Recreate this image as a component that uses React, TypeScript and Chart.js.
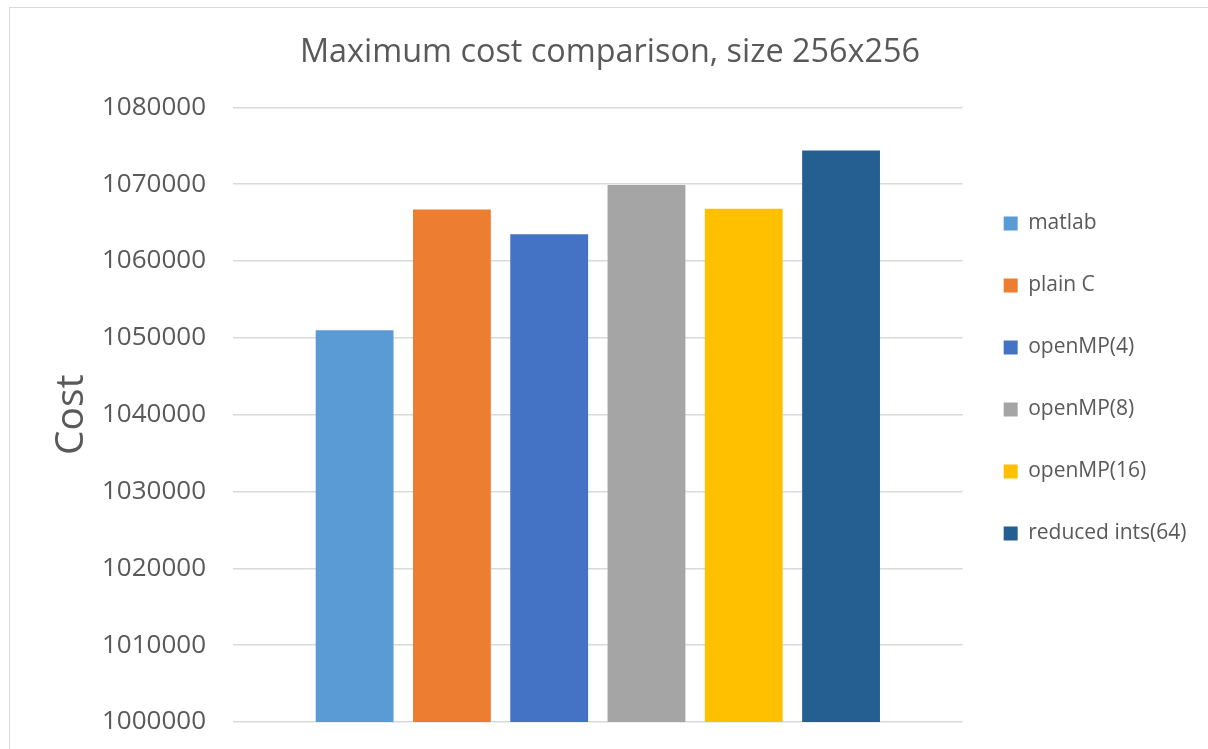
import React, { useEffect, useRef } from "react";
import { Chart, registerables } from "chart.js";

Chart.register(...registerables);

// Series shown in the legend, one bar each
const seriesNames = ["matlab", "plain C", "openMP(4)", "openMP(8)", "openMP(16)", "reduced ints(64)"];
const seriesValues = [1051000, 1066700, 1063500, 1069900, 1066800, 1074400];
const seriesColors = ["#5B9BD5", "#ED7D31", "#4472C4", "#A5A5A5", "#FFC000", "#255E91"];
const categories = [""];

const yMin = 1000000;
const yMax = 1080000;
const yStep = 10000;

const FONT = "'Open Sans', sans-serif";
const TEXT = "#595959";
const GRID = "#D9D9D9";

// Thin light frame around the chart object
const framePlugin = {
  id: "frame",
  beforeDraw(chart: Chart) {
    const { ctx } = chart;
    ctx.save();
    ctx.strokeStyle = GRID;
    ctx.lineWidth = 1;
    ctx.strokeRect(9.5, 7.5, chart.width + 20, chart.height + 20);
    ctx.restore();
  },
};

// Nudge the title and legend blocks after the layout pass
const placementPlugin = {
  id: "placement",
  afterLayout(chart: any) {
    const t = chart.titleBlock;
    if (t) {
      t.left = 12;
      t.right = chart.width;
    }
    const lg = chart.legend;
    if (lg) {
      lg.top = 4;
      lg.bottom = chart.height + 4;
    }
  },
};

export default function App() {
  const canvasRef = useRef<HTMLCanvasElement | null>(null);

  useEffect(() => {
    document.body.style.margin = "0";
    const canvas = canvasRef.current;
    if (!canvas) return;
    const chart = new Chart(canvas, {
      type: "bar",
      data: {
        labels: categories,
        datasets: seriesNames.map((name, i) => ({
          label: name,
          data: [seriesValues[i]],
          backgroundColor: seriesColors[i],
          borderWidth: 0,
          categoryPercentage: 0.8,
          barPercentage: 0.8,
        })),
      },
      options: {
        animation: false,
        responsive: false,
        maintainAspectRatio: false,
        layout: { padding: { left: 0, right: 11.5, top: 0, bottom: 0 } },
        plugins: {
          tooltip: { enabled: false },
          title: {
            display: true,
            text: "Maximum cost comparison, size 256x256",
            color: TEXT,
            font: { family: FONT, size: 32.4, weight: "normal" },
            padding: { top: 33.5, bottom: 35 },
          },
          legend: {
            position: "right",
            align: "center",
            labels: {
              boxWidth: 14,
              boxHeight: 14,
              padding: 41,
              color: TEXT,
              font: { family: FONT, size: 21 },
            },
          },
        },
        scales: {
          x: {
            grid: { display: false },
            border: { display: false },
            ticks: { display: false },
            afterFit(scale: any) {
              scale.height = 27;
            },
          },
          y: {
            min: yMin,
            max: yMax,
            ticks: {
              stepSize: yStep,
              padding: 0,
              color: TEXT,
              font: { family: FONT, size: 26 },
              callback: (v: any) => String(v),
            },
            // invisible tick marks provide the gap between labels and plot
            grid: {
              color: GRID,
              lineWidth: 1.5,
              drawTicks: true,
              tickLength: 27,
              tickColor: "rgba(0,0,0,0)",
            },
            border: { display: false },
            title: {
              display: true,
              text: "Cost",
              color: TEXT,
              font: { family: FONT, size: 39 },
              padding: { top: 48.6, bottom: 0 },
            },
            afterFit(scale: any) {
              scale.width = 233;
            },
          },
        },
      },
      plugins: [framePlugin, placementPlugin],
    });
    return () => chart.destroy();
  }, []);

  return (
    <div style={{ position: "fixed", left: 0, top: 0, width: 1208, height: 749, background: "#fff" }}>
      <canvas ref={canvasRef} width={1208} height={749} style={{ display: "block" }} />
    </div>
  );
}
